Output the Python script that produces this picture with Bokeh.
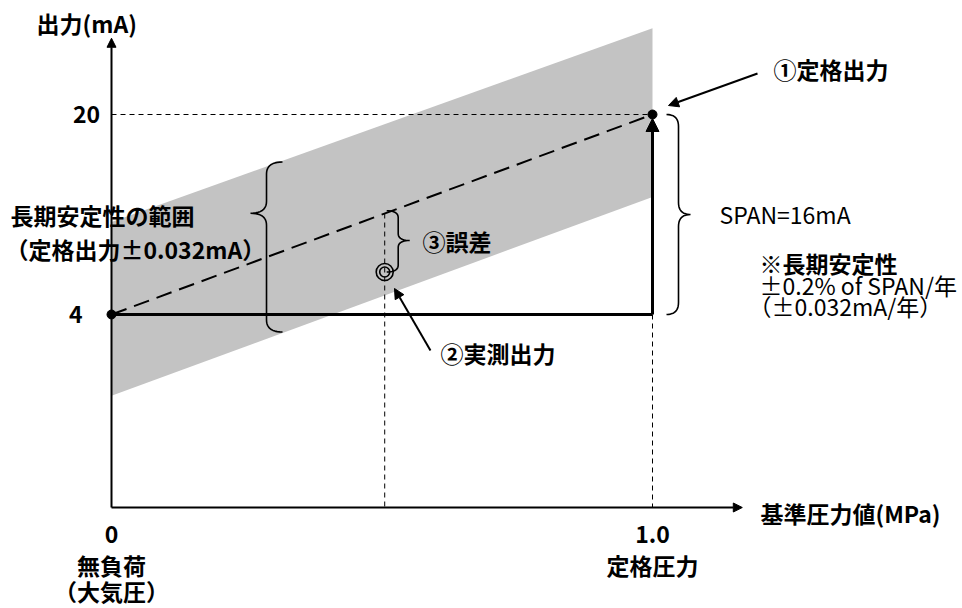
import numpy as np
from bokeh.plotting import figure
from bokeh.models import Range1d, Arrow, NormalHead, Label
from bokeh.embed import file_html
from bokeh.resources import INLINE

# ---------------- data ----------------
PRESSURE = [0.0, 1.0]            # MPa : no load, rated pressure
OUTPUT = [4, 20]                 # mA at those pressures (ideal line)
X_TICKS = [0.0, 1.0]
X_TICK_LABELS = ["0", "1.0"]
X_SUB1 = ["無負荷", "定格圧力"]
X_SUB2 = ["（大気圧）", ""]
Y_TICKS = [4, 20]
Y_TICK_LABELS = ["4", "20"]
BAND_X = [0.0, 1.0]              # long-term stability band (schematic)
BAND_UPPER = [11.4, 26.9]
BAND_LOWER = [-2.5, 13.4]
MEAS_X = [0.505]                 # measured output point
MEAS_Y = [7.4]

# ---------------- frame / scales ----------------
W, H = 962, 608
X0, X1 = -0.20518, 1.57301
Y0, Y1 = -19.52, 29.12
SX = W / (X1 - X0)
SY = H / (Y1 - Y0)
X_AXIS_LEVEL = -11.44
Y_AXIS_TOP = 26.1
X_AXIS_END = 1.166

FONT = "'Noto Sans CJK JP'"

p = figure(width=W, height=H, x_range=Range1d(X0, X1), y_range=Range1d(Y0, Y1),
           output_backend="svg", toolbar_location=None, title=None,
           x_axis_location=None, y_axis_location=None, min_border=0,
           outline_line_color=None, background_fill_color="white",
           border_fill_color="white")
p.grid.visible = False

# gray band
p.patch(x=BAND_X + BAND_X[::-1], y=BAND_UPPER + BAND_LOWER[::-1],
        fill_color="#c3c3c3", line_color=None)

# thin dotted reference lines
p.line(x=[0, PRESSURE[1]], y=[OUTPUT[1], OUTPUT[1]], line_color="black",
       line_width=1, line_dash="5 4")
p.line(x=[PRESSURE[1], PRESSURE[1]], y=[OUTPUT[0], X_AXIS_LEVEL], line_color="black",
       line_width=1, line_dash="5 4")
ideal_at_meas = OUTPUT[0] + (OUTPUT[1] - OUTPUT[0]) * MEAS_X[0] / PRESSURE[1]
p.line(x=[MEAS_X[0], MEAS_X[0]], y=[ideal_at_meas, X_AXIS_LEVEL], line_color="black",
       line_width=1, line_dash="5 4")

# ideal (dashed) line
p.line(x=PRESSURE, y=OUTPUT, line_color="black", line_width=2, line_dash="16 8")

# thick output path
p.line(x=PRESSURE, y=[OUTPUT[0], OUTPUT[0]], line_color="black", line_width=3)
p.add_layout(Arrow(x_start=PRESSURE[1], y_start=OUTPUT[0], x_end=PRESSURE[1],
                   y_end=OUTPUT[1] - 4 / SY, line_width=3, line_color="black",
                   end=NormalHead(size=13, fill_color="black", line_color="black", line_width=1)))

# axes
p.add_layout(Arrow(x_start=0, y_start=X_AXIS_LEVEL, x_end=0, y_end=Y_AXIS_TOP,
                   line_width=2, line_color="black",
                   end=NormalHead(size=9, fill_color="black", line_color="black", line_width=1)))
p.add_layout(Arrow(x_start=0, y_start=X_AXIS_LEVEL, x_end=X_AXIS_END, y_end=X_AXIS_LEVEL,
                   line_width=2, line_color="black",
                   end=NormalHead(size=9, fill_color="black", line_color="black", line_width=1)))

# points
p.scatter(x=PRESSURE, y=OUTPUT, size=9, color="black")
p.scatter(x=MEAS_X, y=MEAS_Y, size=17, fill_color=None, line_color="black", line_width=1.6)
p.scatter(x=MEAS_X, y=MEAS_Y, size=10, fill_color=None, line_color="black", line_width=1.6)


# braces
def quad(p0, c, p1, n=12):
    t = np.linspace(0, 1, n)[:, None]
    return (1 - t) ** 2 * np.array(p0) + 2 * (1 - t) * t * np.array(c) + t ** 2 * np.array(p1)


def brace(x0, y_top, y_bot, y_tip, w_px, r_px):
    w = w_px / SX
    r = r_px / SY
    xm = x0 + w / 2
    xt = x0 + w
    segs = [
        quad((x0, y_top), (xm, y_top), (xm, y_top - r)),
        np.array([(xm, y_top - r), (xm, y_tip + r)]),
        quad((xm, y_tip + r), (xm, y_tip), (xt, y_tip)),
        quad((xt, y_tip), (xm, y_tip), (xm, y_tip - r)),
        np.array([(xm, y_tip - r), (xm, y_bot + r)]),
        quad((xm, y_bot + r), (xm, y_bot), (x0, y_bot)),
    ]
    pts = np.vstack(segs)
    return list(pts[:, 0]), list(pts[:, 1])


bx, by = [], []
for args in [
    (PRESSURE[1] + 14 / SX, OUTPUT[1], OUTPUT[0], (OUTPUT[0] + OUTPUT[1]) / 2, 24, 12),
    (0.3161, 16.2, 2.6, 12.1, -32, 12),
    (MEAS_X[0] + 2 / SX, 12.3, MEAS_Y[0], 9.92, 23, 7),
]:
    xs, ys = brace(*args)
    bx.append(xs)
    by.append(ys)
p.multi_line(xs=bx, ys=by, line_color="black", line_width=1.6)

# pointer arrows
p.add_layout(Arrow(x_start=1.1941, y_start=23.28, x_end=1.0296, y_end=20.72,
                   line_width=2, line_color="black",
                   end=NormalHead(size=10, fill_color="black", line_color="black", line_width=1)))
p.add_layout(Arrow(x_start=0.5896, y_start=1.12, x_end=0.5231, y_end=6.08,
                   line_width=2, line_color="black",
                   end=NormalHead(size=10, fill_color="black", line_color="black", line_width=1)))


def label(x, y, text, size=23, bold=True, align="left"):
    p.add_layout(Label(x=x, y=y, text=text, text_font=FONT, text_font_size=f"{size}px",
                       text_font_style="bold" if bold else "normal", text_align=align,
                       text_baseline="middle", text_color="black"))


# tick labels
for yv, yl, xv in zip(Y_TICKS, Y_TICK_LABELS, [-0.066, -0.046]):
    label(xv, yv, yl, align="center")
for xv, xl, s1, s2 in zip(X_TICKS, X_TICK_LABELS, X_SUB1, X_SUB2):
    label(xv, -13.6, xl, align="center")
    label(xv, -16.0, s1, align="center")
    if s2:
        label(xv, -18.1, s2, align="center")

# axis titles
label(-0.1386, 27.36, "出力(mA)")
label(1.1996, -11.84, "基準圧力値(MPa)")

# annotations
label(-0.1867, 12.0, "長期安定性の範囲")
label(-0.196, 9.28, "（定格出力±0.032mA）")
label(0.5749, 9.92, "③誤差")
label(0.6081, 0.96, "②実測出力")
label(1.2237, 23.68, "①定格出力")
label(1.1238, 12.08, "SPAN=16mA", bold=False)
label(1.1978, 8.16, "※長期安定性")
label(1.1978, 6.4, "±0.2% of SPAN/年", bold=False)
label(1.1774, 4.72, "（±0.032mA/年）", bold=False)

open("out.html", "w").write(file_html(p, INLINE))
